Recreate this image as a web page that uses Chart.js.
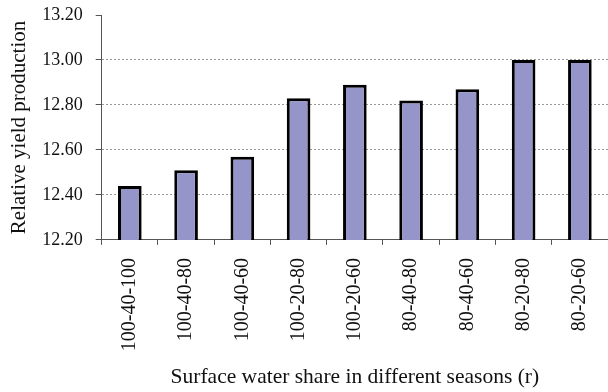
<!DOCTYPE html>
<html>
<head>
<meta charset="utf-8">
<script src="https://cdn.jsdelivr.net/npm/chart.js@4"></script>
<style>
  html, body { margin: 0; padding: 0; background: #fff; }
  canvas { display: block; }
</style>
</head>
<body>
<canvas id="myChart" width="608" height="392"></canvas>
<script>
// categories (r) and relative yield values
const shares = ['100-40-100', '100-40-80', '100-40-60', '100-20-80', '100-20-60',
                '80-40-80', '80-40-60', '80-20-80', '80-20-60'];
const yieldValues = [12.44, 12.51, 12.57, 12.83, 12.89, 12.82, 12.87, 13.00, 13.00];
const yMin = 12.2;
const yMax = 13.2;
const yStep = 0.2;

const serif = 'Liberation Serif';

const ctx = document.getElementById('myChart');
new Chart(ctx, {
  type: 'bar',
  data: {
    labels: shares,
    datasets: [{
      label: 'Relative yield production',
      data: yieldValues,
      backgroundColor: '#9595c9',
      borderColor: '#000',
      borderWidth: 3,
      borderSkipped: false,
      barPercentage: 0.42,
      categoryPercentage: 1
    }]
  },
  options: {
    responsive: false,
    animation: false,
    devicePixelRatio: 1,
    layout: { padding: { top: 0, right: 0, left: 7, bottom: 0 } },
    plugins: {
      legend: { display: false },
      tooltip: { enabled: false }
    },
    scales: {
      x: {
        afterFit: (s) => { s.paddingLeft = 0; s.paddingRight = 0; },
        grid: {
          offset: true,
          drawOnChartArea: false,
          drawTicks: true,
          tickLength: 5,
          color: '#555'
        },
        border: { color: '#555', width: 1 },
        ticks: {
          color: '#111',
          minRotation: 90,
          maxRotation: 90,
          padding: 13,
          font: { family: serif, size: 20 }
        },
        title: {
          display: true,
          text: 'Surface water share in different seasons (r)',
          color: '#111',
          padding: { top: 0, bottom: 2 },
          font: { family: serif, size: 21.5 }
        }
      },
      y: {
        min: yMin,
        max: yMax,
        afterFit: (s) => { s.paddingTop = 15; s.paddingBottom = 0; },
        grid: {
          color: (c) => (c.tick && c.tick.value >= yMax - 1e-6) ? 'rgba(0,0,0,0)' : '#999',
          tickColor: '#555',
          lineWidth: 1,
          tickLength: 6,
          drawTicks: true
        },
        border: { color: '#555', width: 1, dash: [2, 2] },
        ticks: {
          stepSize: yStep,
          color: '#111',
          padding: 13,
          font: { family: serif, size: 18 },
          callback: (v) => Number(v).toFixed(2)
        },
        title: {
          display: true,
          text: 'Relative yield production',
          color: '#111',
          padding: { top: 0, bottom: -3 },
          font: { family: serif, size: 21 }
        }
      }
    }
  }
});
</script>
</body>
</html>
